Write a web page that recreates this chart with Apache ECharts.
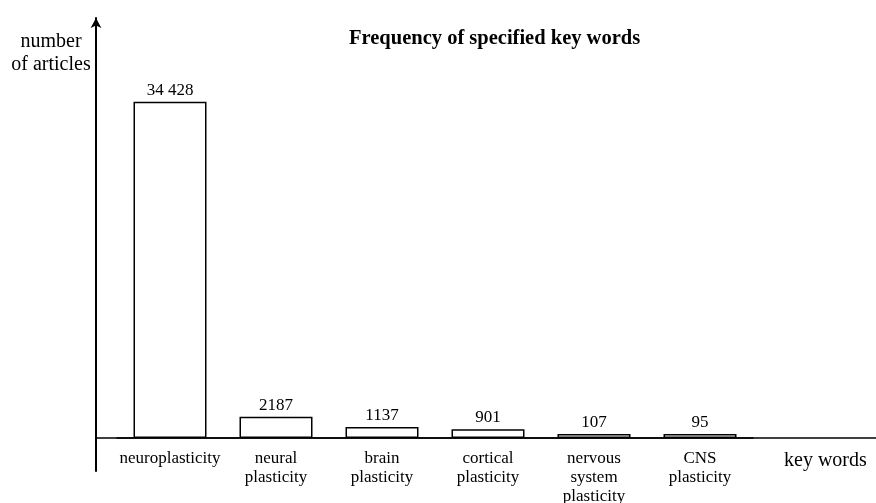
<!DOCTYPE html>
<html>
<head>
<meta charset="utf-8">
<script src="https://cdn.jsdelivr.net/npm/echarts@6/dist/echarts.min.js"></script>
<style>
  html, body { margin: 0; padding: 0; background: #fff; }
  #chart { width: 876px; height: 503px; }
</style>
</head>
<body>
<div id="chart"></div>
<script>
// Chart data
const categories = ['neuroplasticity', 'neural plasticity', 'brain plasticity', 'cortical plasticity', 'nervous system plasticity', 'CNS plasticity'];
const articleCounts = [34428, 2187, 1137, 901, 107, 95];
const chartTitle = 'Frequency of specified key words';
const yAxisTitle = 'number\nof articles';
const xAxisTitle = 'key words';

const serif = "'Liberation Serif', 'Times New Roman', serif";

// thousands separated by a space only for the big value (as in the source)
function formatCount(v) {
    return v >= 10000 ? String(v).replace(/\B(?=(\d{3})+(?!\d))/g, ' ') : String(v);
}

const chart = echarts.init(document.getElementById('chart'));

const option = {
    backgroundColor: '#fff',
    animation: false,
    title: [
        { text: chartTitle, left: 344, top: 23,
          textStyle: { fontFamily: serif, fontSize: 20.5, fontWeight: 'bold', color: '#000' } },
        { text: yAxisTitle, left: 46, top: 25, textAlign: 'center',
          textStyle: { fontFamily: serif, fontSize: 20, fontWeight: 'normal', color: '#000', lineHeight: 23 } },
        { text: xAxisTitle, left: 779, top: 446,
          textStyle: { fontFamily: serif, fontSize: 20, fontWeight: 'normal', color: '#000' } }
    ],
    grid: [
        // full-width grid: carries the arrow axis (running below the baseline) and the long baseline
        { left: 96, right: 0, top: 18, bottom: 32, outerBoundsMode: 'none' },
        // bar grid, its bottom edge is the baseline
        { left: 117, width: 636, top: 18, bottom: 65, outerBoundsMode: 'none' }
    ],
    xAxis: [
        {
            gridIndex: 0, type: 'value', min: 0, max: 1,
            axisLine: { show: true, onZero: true, lineStyle: { color: '#000', width: 1.5 } },
            axisTick: { show: false }, axisLabel: { show: false }, splitLine: { show: false }
        },
        {
            gridIndex: 1, type: 'category', data: categories,
            axisLine: { show: true, lineStyle: { color: '#000', width: 1.5 } },
            axisTick: { show: false },
            axisLabel: {
                interval: 0, margin: 11,
                fontFamily: serif, fontSize: 17, color: '#000', lineHeight: 19,
                formatter: v => v.split(' ').join('\n')
            }
        }
    ],
    yAxis: [
        {
            gridIndex: 0, type: 'value', min: -3400, max: 43000,
            axisLine: { show: true, symbol: ['none', 'arrow'], symbolSize: [8, 10],
                        lineStyle: { color: '#000', width: 2 } },
            axisTick: { show: false }, axisLabel: { show: false }, splitLine: { show: false }
        },
        {
            gridIndex: 1, type: 'value', min: 0, max: 43000, show: false,
            splitLine: { show: false }
        }
    ],
    series: [{
        type: 'bar',
        xAxisIndex: 1,
        yAxisIndex: 1,
        data: articleCounts,
        barWidth: 73,
        barMinHeight: 4,
        itemStyle: { color: '#fff', borderColor: '#000', borderWidth: 1.5 },
        label: {
            show: true, position: 'top', distance: 3,
            fontFamily: serif, fontSize: 17, color: '#000',
            formatter: p => formatCount(p.value)
        }
    }]
};

chart.setOption(option);
</script>
</body>
</html>
